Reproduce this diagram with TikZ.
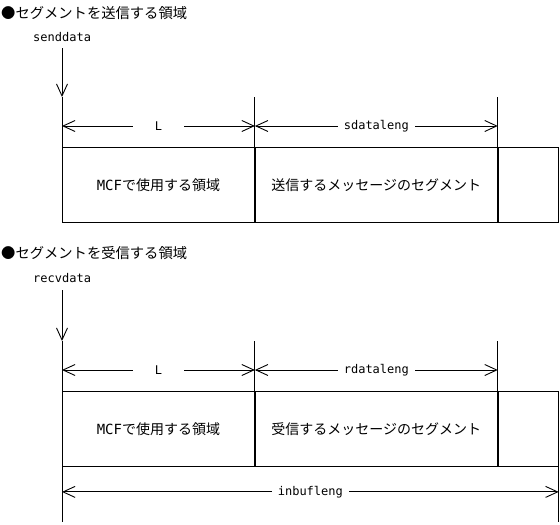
\documentclass[tikz,border=0pt]{standalone}
\usepackage{fontspec}
\setmainfont{Noto Sans CJK JP}
\setmonofont{DejaVu Sans Mono}
\usetikzlibrary{arrows.meta, positioning}

\begin{document}
\begin{tikzpicture}[x=1pt, y=-1pt,
    area/.style={draw, line width=0.9pt, inner sep=0pt, minimum height=75pt, anchor=north west, font=\fontsize{14}{16}\selectfont},
    dim/.style={{Straight Barb[length=12pt,width=11pt]}-{Straight Barb[length=12pt,width=11pt]}, line width=0.9pt},
    ptr/.style={-{Straight Barb[length=12pt,width=11pt]}, line width=0.9pt},
    ext/.style={line width=0.9pt},
    dimlabel/.style={fill=white, inner ysep=1pt, inner xsep=6pt, font=\ttfamily\fontsize{12}{14}\selectfont},
    title/.style={anchor=west, inner sep=0pt, font=\fontsize{14.3}{16}\selectfont},
    varname/.style={anchor=west, inner sep=0pt, font=\ttfamily\fontsize{12}{14}\selectfont}]
    \useasboundingbox (0,0) rectangle (560,525);

    % Send area
    \node[title] (title1) at (1,13) {●セグメントを送信する領域};
    \node[varname] (send) at (33,37) {senddata};
    \node[area, minimum width=192pt] (mcf1) at (62,147) {{\ttfamily MCF}で使用する領域};
    \node[area, minimum width=242pt, right=0pt of mcf1] (seg1) {送信するメッセージのセグメント};
    \node[area, minimum width=60pt, right=0pt of seg1] (rest1) {};

    \coordinate (p1) at (62,48);
    \coordinate (tip1) at (62,97);
    \draw[ptr] (p1) -- (tip1);
    \draw[ext] (tip1) -- (mcf1.north west);
    \draw[ext] (seg1.north west) -- ++(0,-50);
    \draw[ext] (seg1.north east) -- ++(0,-50);

    \draw[dim] ([yshift=21pt]mcf1.north west) -- ([yshift=21pt]mcf1.north east) node[midway, dimlabel, inner xsep=22pt] {L};
    \draw[dim] ([yshift=21pt]seg1.north west) -- ([yshift=21pt]seg1.north east) node[midway, dimlabel] {sdataleng};

    % Receive area
    \node[title] (title2) at (1,253) {●セグメントを受信する領域};
    \node[varname] (recv) at (33,278) {recvdata};
    \node[area, minimum width=192pt] (mcf2) at (62,391) {{\ttfamily MCF}で使用する領域};
    \node[area, minimum width=242pt, right=0pt of mcf2] (seg2) {受信するメッセージのセグメント};
    \node[area, minimum width=60pt, right=0pt of seg2] (rest2) {};

    \coordinate (p2) at (62,290);
    \coordinate (tip2) at (62,341);
    \draw[ptr] (p2) -- (tip2);
    \draw[ext] (tip2) -- (mcf2.north west);
    \draw[ext] (seg2.north west) -- ++(0,-50);
    \draw[ext] (seg2.north east) -- ++(0,-50);
    \draw[ext] (mcf2.south west) -- ++(0,55);
    \draw[ext] (rest2.south east) -- ++(0,55);

    \draw[dim] ([yshift=21pt]mcf2.north west) -- ([yshift=21pt]mcf2.north east) node[midway, dimlabel, inner xsep=22pt] {L};
    \draw[dim] ([yshift=21pt]seg2.north west) -- ([yshift=21pt]seg2.north east) node[midway, dimlabel] {rdataleng};
    \draw[dim] ([yshift=-25pt]mcf2.south west) -- ([yshift=-25pt]rest2.south east) node[midway, dimlabel] {inbufleng};
\end{tikzpicture}
\end{document}
